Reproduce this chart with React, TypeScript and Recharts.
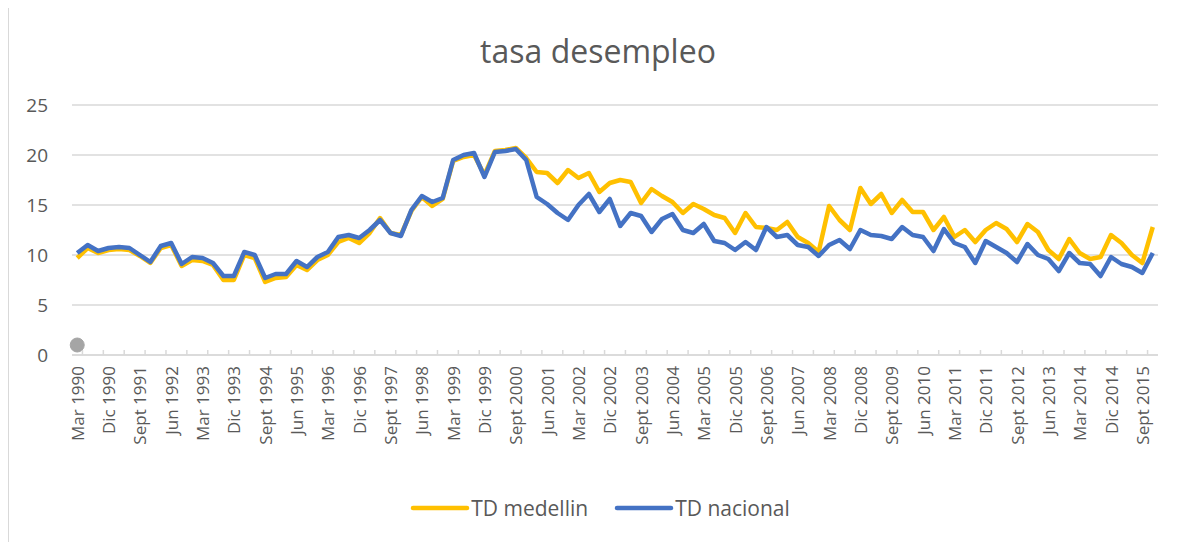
import { LineChart, Line, XAxis, YAxis, CartesianGrid, Legend } from "recharts";

const trimestres = ["Mar", "Jun", "Sept", "Dic"];
const anioInicio = 1990;
const anioFin = 2015;

const tdMedellin = [
  9.7, 10.7, 10.2, 10.5, 10.6, 10.5, 9.9, 9.2, 10.7, 11.0, 8.9, 9.5, 9.4, 9.0, 7.5, 7.5,
  10.0, 9.7, 7.3, 7.7, 7.8, 9.0, 8.5, 9.5, 10.0, 11.3, 11.7, 11.2, 12.2, 13.7, 12.2, 12.0,
  14.4, 15.8, 14.9, 15.6, 19.4, 19.8, 20.0, 18.0, 20.4, 20.5, 20.7, 19.7, 18.3, 18.2, 17.2, 18.5,
  17.7, 18.2, 16.3, 17.2, 17.5, 17.3, 15.2, 16.6, 15.9, 15.3, 14.2, 15.1, 14.6, 14.0, 13.7, 12.2,
  14.2, 12.8, 12.7, 12.5, 13.3, 11.8, 11.2, 10.3, 14.9, 13.5, 12.5, 16.7, 15.1, 16.1, 14.2, 15.5,
  14.3, 14.3, 12.5, 13.8, 11.8, 12.5, 11.3, 12.5, 13.2, 12.6, 11.3, 13.1, 12.3, 10.5, 9.6, 11.6,
  10.2, 9.6, 9.8, 12.0, 11.2, 10.0, 9.2, 12.8,
];

const tdNacional = [
  10.2, 11.0, 10.4, 10.7, 10.8, 10.7, 10.0, 9.3, 10.9, 11.2, 9.1, 9.8, 9.7, 9.2, 7.9, 7.9,
  10.3, 10.0, 7.7, 8.1, 8.1, 9.4, 8.8, 9.8, 10.3, 11.8, 12.0, 11.7, 12.5, 13.5, 12.2, 11.9,
  14.5, 15.9, 15.3, 15.7, 19.5, 20.0, 20.2, 17.8, 20.3, 20.4, 20.6, 19.5, 15.8, 15.1, 14.2, 13.5,
  15.0, 16.1, 14.3, 15.6, 12.9, 14.2, 13.9, 12.3, 13.6, 14.1, 12.5, 12.2, 13.1, 11.4, 11.2, 10.5,
  11.3, 10.5, 12.8, 11.8, 12.0, 11.0, 10.8, 9.9, 11.0, 11.5, 10.6, 12.5, 12.0, 11.9, 11.6, 12.8,
  12.0, 11.8, 10.4, 12.6, 11.2, 10.8, 9.2, 11.4, 10.8, 10.2, 9.3, 11.1, 10.0, 9.6, 8.4, 10.2,
  9.2, 9.1, 7.9, 9.8, 9.1, 8.8, 8.2, 10.2,
];

// punto gris suelto que aparece en la primera categoria
const puntoSuelto = [{ indice: 0, valor: 1 }];

const yTicks = [0, 5, 10, 15, 20, 25];

const periodos: string[] = [];
for (let a = anioInicio; a <= anioFin; a++) {
  trimestres.forEach((t) => periodos.push(`${t} ${a}`));
}

const data = periodos.map((periodo, i) => ({
  periodo,
  medellin: tdMedellin[i],
  nacional: tdNacional[i],
  suelto: puntoSuelto.find((p) => p.indice === i)?.valor ?? null,
}));

const ANCHO = 1178;
const ALTO = 538;
const PLOT_ANCHO = 1086;
const PASO = PLOT_ANCHO / periodos.length;
const FUENTE = "'Open Sans', 'Noto Sans', sans-serif";
const GRIS_TEXTO = "#595959";

const TickFecha = (props: any) => {
  const { x, y, payload } = props;
  const i = payload.index;
  return (
    <g>
      {i % 2 === 1 && (
        <line x1={x - PASO / 2} x2={x - PASO / 2} y1={y - 5} y2={y} stroke="#d9d9d9" strokeWidth={1.5} />
      )}
      {i % 3 === 0 && (
        <text
          x={x}
          y={y + 11}
          transform={`rotate(-90, ${x}, ${y + 11})`}
          textAnchor="end"
          dominantBaseline="central"
          fontSize={17}
          fill={GRIS_TEXTO}
          fontFamily={FUENTE}
        >
          {payload.value}
        </text>
      )}
    </g>
  );
};

const Leyenda = () => (
  <div
    style={{
      display: "flex",
      justifyContent: "center",
      alignItems: "center",
      height: 30,
      fontFamily: FUENTE,
      paddingLeft: 33,
    }}
  >
    {[
      { nombre: "TD medellin", color: "#FFC000" },
      { nombre: "TD nacional", color: "#4472C4" },
    ].map((it, k) => (
      <div key={it.nombre} style={{ display: "flex", alignItems: "center", marginLeft: k ? 26 : 0 }}>
        <svg width={60} height={10}>
          <line x1={3} x2={57} y1={5} y2={5} stroke={it.color} strokeWidth={4.5} strokeLinecap="round" />
        </svg>
        <span style={{ fontSize: 21, color: GRIS_TEXTO, marginLeft: 1 }}>{it.nombre}</span>
      </div>
    ))}
  </div>
);

export default function App() {
  return (
    <div
      style={{
        position: "relative",
        width: ANCHO,
        height: ALTO,
        border: "1px solid #d9d9d9",
        marginTop: -1,
        background: "#fff",
      }}
    >
      <div
        style={{
          position: "absolute",
          top: 23,
          left: 0,
          width: ANCHO,
          textAlign: "center",
          fontFamily: FUENTE,
          fontSize: 32,
          lineHeight: "40px",
          color: GRIS_TEXTO,
        }}
      >
        tasa desempleo
      </div>
      <LineChart
        width={ANCHO}
        height={ALTO}
        data={data}
        margin={{ top: 97, right: 29, left: 0, bottom: 61 }}
      >
        <CartesianGrid vertical={false} stroke="#d9d9d9" strokeWidth={1.5} />
        <XAxis
          dataKey="periodo"
          interval={0}
          height={100}
          padding={{ left: PASO / 2, right: PASO / 2 }}
          tick={<TickFecha />}
          tickLine={false}
          tickSize={0}
          tickMargin={0}
          axisLine={{ stroke: "#d9d9d9", strokeWidth: 1.5 }}
        />
        <YAxis
          width={63}
          domain={[0, 25]}
          ticks={yTicks}
          axisLine={false}
          tickLine={false}
          tickSize={0}
          tickMargin={24}
          tick={{ fontSize: 19, fill: GRIS_TEXTO, fontFamily: FUENTE }}
        />
        <Legend verticalAlign="bottom" content={<Leyenda />} wrapperStyle={{ bottom: 23 }} />
        <Line
          dataKey="medellin"
          name="TD medellin"
          stroke="#FFC000"
          strokeWidth={4.5}
          dot={false}
          strokeLinejoin="round"
          isAnimationActive={false}
        />
        <Line
          dataKey="nacional"
          name="TD nacional"
          stroke="#4472C4"
          strokeWidth={4.5}
          dot={false}
          strokeLinejoin="round"
          isAnimationActive={false}
        />
        <Line
          dataKey="suelto"
          stroke="none"
          legendType="none"
          dot={{ r: 7, fill: "#A5A5A5", stroke: "#A5A5A5", strokeWidth: 1 }}
          isAnimationActive={false}
        />
      </LineChart>
    </div>
  );
}
